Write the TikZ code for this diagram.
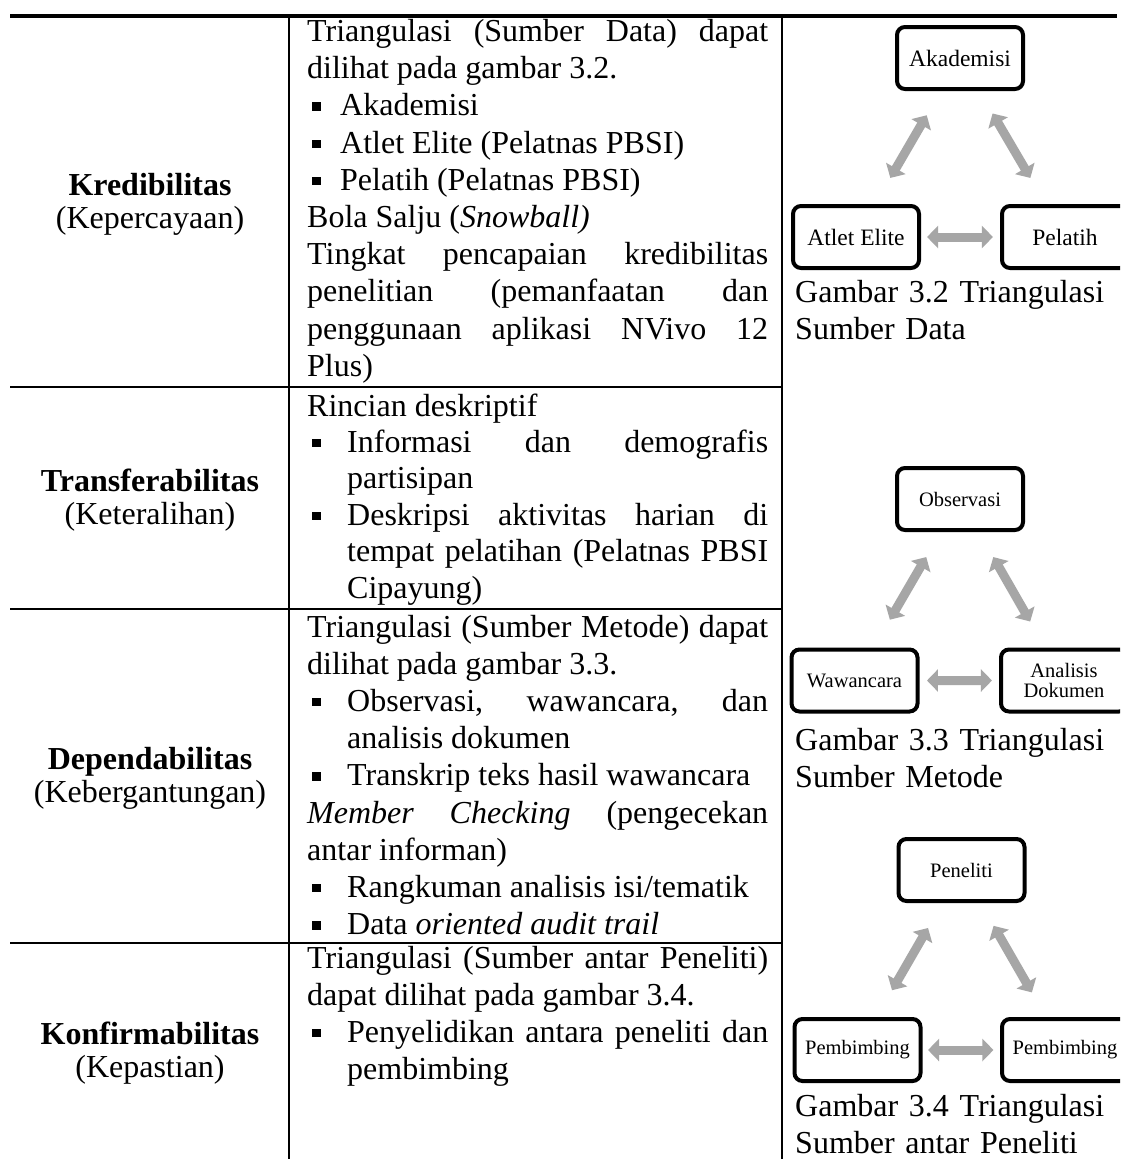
\documentclass[tikz,border=0pt]{standalone}
\usepackage{fontspec}
\setmainfont{Liberation Serif}
\usetikzlibrary{arrows.meta,calc}
\definecolor{arrgray}{HTML}{A6A6A6}
\newcommand\sqbul{\raisebox{5pt}{\rule{8.5pt}{8.5pt}}}
\newcommand\bitem[1]{\par\hangindent=#1\hangafter=1\noindent\makebox[#1][l]{\hspace{5pt}\sqbul}}
\newcommand\bodyfont{\fontsize{32}{37.2}\selectfont\tolerance=10000\hyphenpenalty=10000\parindent=0pt}
\newcommand\tightfont{\fontsize{32}{36.4}\selectfont\tolerance=10000\hyphenpenalty=10000\parindent=0pt}
\begin{document}
\begin{tikzpicture}[x=1pt,y=-1pt,
  cell/.style={anchor=base west, inner sep=0pt, text width=461pt, align=justify, font=\bodyfont},
  lbl/.style={anchor=center, inner sep=0pt, align=center, font=\fontsize{32}{33}\selectfont},
  captxt/.style={anchor=base west, inner sep=0pt, text width=330pt, align=left, font=\bodyfont},
  box/.style={draw, line width=4pt, rounded corners=8pt, minimum width=126pt, minimum height=62pt, inner sep=2pt, align=center},
  boxA/.style={box, font=\fontsize{23.5}{24}\selectfont},
  boxB/.style={box, font=\fontsize{20.5}{20}\selectfont},
  tabrule/.style={line width=2.7pt},
  dbl/.style={arrgray, line width=9pt, {Triangle[width=22pt,length=11pt]}-{Triangle[width=22pt,length=11pt]}}
]
\path[use as bounding box] (0,0) rectangle (1120,1159);
\clip (0,0) rectangle (1120,1159);
\fill[white] (0,0) rectangle (1120,1159);

% table rules
\draw[line width=4pt] (10,16) -- (1117,16);
\draw[tabrule] (289,16) -- (289,1159);
\draw[tabrule] (782,16) -- (782,1159);
\draw[tabrule] (10,387) -- (782,387);
\draw[tabrule] (10,609) -- (782,609);
\draw[tabrule] (10,943) -- (782,943);

% column 1
\node[lbl] (l1) at (150,204) {\textbf{Kredibilitas}\\(Kepercayaan)};
\node[lbl] (l2) at (150,500.5) {\textbf{Transferabilitas}\\(Keteralihan)};
\node[lbl] (l3) at (150,778.5) {\textbf{Dependabilitas}\\(Kebergantungan)};
\node[lbl] (l4) at (150,1053.5) {\textbf{Konfirmabilitas}\\(Kepastian)};

% column 2
\node[cell] (c1) at (307,41.5) {Triangulasi (Sumber Data) dapat\linebreak dilihat pada gambar 3.2.
\bitem{33pt}Akademisi
\bitem{33pt}Atlet Elite (Pelatnas PBSI)
\bitem{33pt}Pelatih (Pelatnas PBSI)
\par Bola Salju (\textit{Snowball)}
\par Tingkat pencapaian kredibilitas\linebreak penelitian (pemanfaatan dan\linebreak penggunaan aplikasi NVivo 12\linebreak Plus)\par};

\node[cell, font=\tightfont] (c2) at (307,416) {Rincian deskriptif
\bitem{40pt}Informasi dan demografis\linebreak partisipan
\bitem{40pt}Deskripsi aktivitas harian di\linebreak tempat pelatihan (Pelatnas PBSI\linebreak Cipayung)\par};

\node[cell] (c3) at (307,637) {Triangulasi (Sumber Metode) dapat\linebreak dilihat pada gambar 3.3.
\bitem{40pt}Observasi, wawancara, dan\linebreak analisis dokumen
\bitem{40pt}Transkrip teks hasil wawancara
\par \textit{Member Checking} (pengecekan\linebreak antar informan)
\bitem{40pt}Rangkuman analisis isi/tematik
\bitem{40pt}Data \textit{oriented audit trail}\par};

\node[cell] (c4) at (307,968) {Triangulasi (Sumber antar Peneliti)\linebreak dapat dilihat pada gambar 3.4.
\bitem{40pt}Penyelidikan antara peneliti dan\linebreak pembimbing\par};

% figure 3.2
\node[boxA] (akad) at (960,58) {Akademisi};
\node[boxA] (atlet) at (856,237) {Atlet Elite};
\node[boxA] (pelatih) at (1065,237) {Pelatih};
\draw[dbl] ($(atlet)!.33!(akad)$) -- ($(atlet)!.68!(akad)$);
\draw[dbl] ($(akad)!.31!(pelatih)$) -- ($(akad)!.67!(pelatih)$);
\draw[dbl] ($(atlet)!.34!(pelatih)$) -- ($(atlet)!.655!(pelatih)$);
\node[captxt] (cap2) at (795,302) {Gambar 3.2 Triangulasi\\Sumber Data};

% figure 3.3
\node[boxB] (obs) at (960,499) {Observasi};
\node[boxB] (waw) at (854.5,680.5) {Wawancara};
\node[boxB] (ana) at (1064,680.5) {Analisis\\Dokumen};
\draw[dbl] ($(waw)!.335!(obs)$) -- ($(waw)!.68!(obs)$);
\draw[dbl] ($(obs)!.32!(ana)$) -- ($(obs)!.675!(ana)$);
\draw[dbl] ($(waw)!.346!(ana)$) -- ($(waw)!.656!(ana)$);
\node[captxt] (cap3) at (795,750) {Gambar 3.3 Triangulasi\\Sumber Metode};

% figure 3.4
\node[boxB] (pen) at (961.5,870) {Peneliti};
\node[boxB] (pbl) at (857.5,1050) {Pembimbing};
\node[boxB] (pbr) at (1065,1050) {Pembimbing};
\draw[dbl] ($(pbl)!.332!(pen)$) -- ($(pbl)!.678!(pen)$);
\draw[dbl] ($(pen)!.31!(pbr)$) -- ($(pen)!.68!(pbr)$);
\draw[dbl] ($(pbl)!.34!(pbr)$) -- ($(pbl)!.655!(pbr)$);
\node[captxt] (cap4) at (795,1116) {Gambar 3.4 Triangulasi\\Sumber antar Peneliti};
\end{tikzpicture}
\end{document}
